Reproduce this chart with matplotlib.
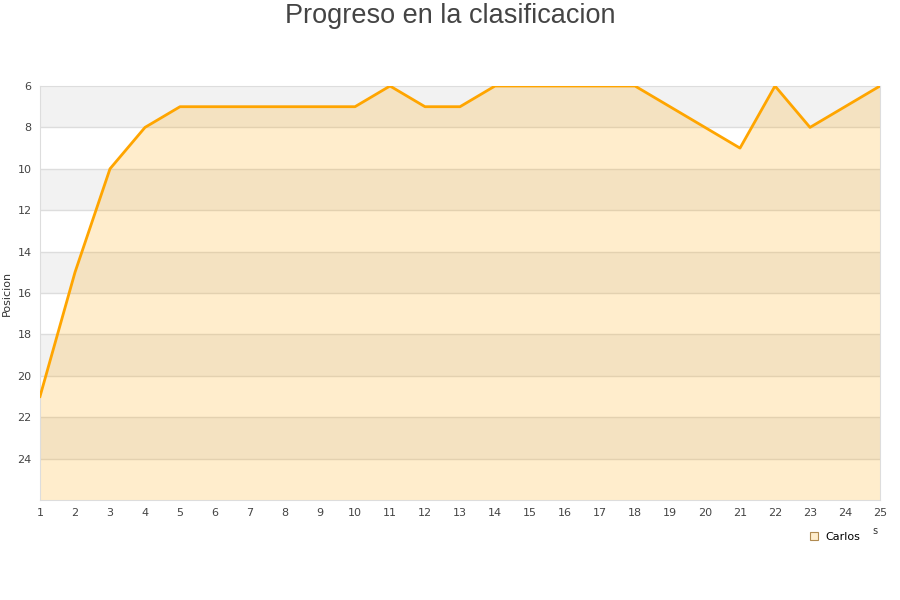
import matplotlib
matplotlib.use("Agg")
import matplotlib.pyplot as plt
from matplotlib.lines import Line2D

# datos de la clasificacion
jornadas = list(range(1, 26))
posicion = [21, 15, 10, 8, 7, 7, 7, 7, 7, 7, 6, 7, 7, 6, 6, 6, 6, 6, 7, 8, 9, 6, 8, 7, 6]
jugador = "Carlos"
y_ticks = [6, 8, 10, 12, 14, 16, 18, 20, 22, 24]

fig = plt.figure(figsize=(9, 6), dpi=100)
ax = fig.add_axes([40 / 900, 1 - 500 / 600, 840 / 900, 414 / 600])

# bandas alternas gris / blanco
for y0 in range(6, 26, 4):
    ax.axhspan(y0, y0 + 2, color="#f2f2f2", zorder=0, lw=0)
for y in y_ticks[1:]:
    ax.axhline(y, color="#dddddd", lw=1, zorder=1)

ax.fill_between(jornadas, posicion, 26, color="#ffa500", alpha=0.2, lw=0, zorder=2)
ax.plot(jornadas, posicion, color="#ffa500", lw=2, zorder=3)

ax.set_xlim(1, 25)
ax.set_ylim(26, 6)
ax.set_xticks(jornadas)
ax.set_yticks(y_ticks)
ax.tick_params(length=0, labelsize=8, colors="#444444", pad=6)
for s in ["top", "left", "right", "bottom"]:
    ax.spines[s].set_color("#dddddd")
ax.set_ylabel("Posicion", fontsize=8, color="#333333", labelpad=4)

fig.text(0.5, 1 - 16 / 600, "Progreso en la clasificacion", ha="center", va="center",
         fontsize=19.5, color="#444444", family="Liberation Sans")
fig.text(875 / 900, 1 - 531 / 600, "s", ha="center", va="center", fontsize=7, color="#333333")

handle = Line2D([], [], ls="none", marker="s", markersize=6,
                markerfacecolor="#ffedcc", markeredgecolor="#b08a50", markeredgewidth=0.8)
fig.legend([handle], [jugador], loc="center", bbox_to_anchor=(834 / 900, 1 - 537 / 600),
           frameon=False, fontsize=8, handlelength=1, handletextpad=0.5)

fig.savefig("out.png", dpi=100)
